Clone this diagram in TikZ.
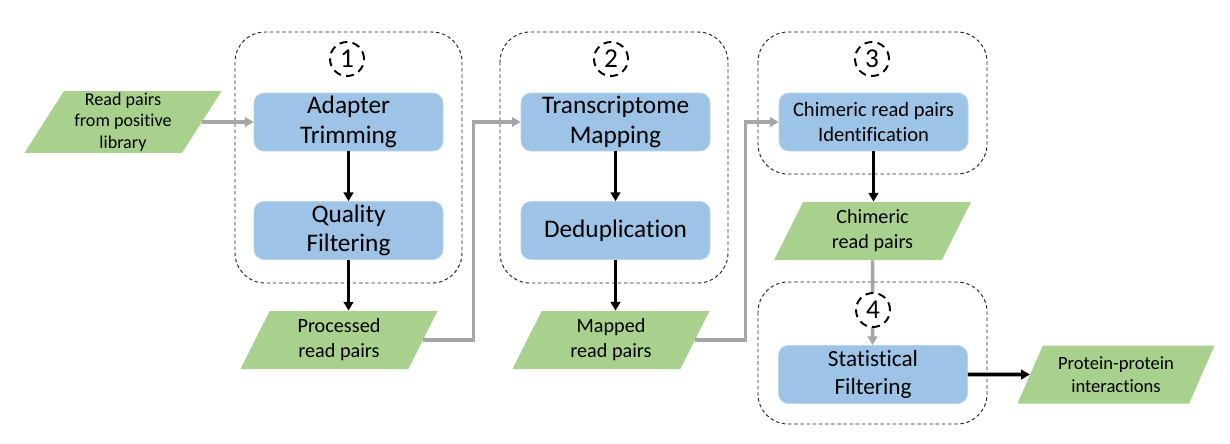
\documentclass[tikz,border=0pt]{standalone}
\usepackage{fontspec}
\setmainfont{Carlito}[Ligatures=NoCommon]
\usepackage{tikz}
\usetikzlibrary{shapes.geometric,arrows.meta,calc}

\definecolor{stepblue}{HTML}{9DC3E6}
\definecolor{datagreen}{HTML}{A9D18E}
\definecolor{linkgray}{HTML}{A6A6A6}

\tikzset{
  stepbox/.style={rectangle,rounded corners=0.2cm,fill=stepblue,draw=stepblue!70!white,
    minimum width=3.78cm,minimum height=1.16cm,align=center,inner sep=1pt,
    font=\fontsize{14.4}{16.8}\selectfont},
  databox/.style={trapezium,trapezium left angle=57.5,trapezium right angle=122.5,
    trapezium stretches body,fill=datagreen,minimum width=3.94cm,minimum height=1.16cm,
    align=center,inner sep=1pt,font=\fontsize{11.5}{14.2}\selectfont},
  groupbox/.style={draw=black!85,dash pattern=on 2pt off 1.5pt,line width=0.55pt,rounded corners=0.6cm},
  stagemark/.style={circle,draw=black,fill=white,line width=1.1pt,dash pattern=on 4.5pt off 3pt,
    minimum size=0.68cm,inner sep=0pt,font=\fontsize{15.5}{15.5}\selectfont},
  flow/.style={-{Triangle[length=5pt,width=5.5pt]},line width=2pt,black},
  link/.style={-{Triangle[length=5pt,width=5.5pt]},line width=2pt,linkgray},
}

\begin{document}
\begin{tikzpicture}
      \useasboundingbox (0,0) rectangle (24.6,-8.86);
      % dashed stage groups
      \draw[groupbox] (4.7,-0.64) rectangle (9.24,-5.66);
      \draw[groupbox] (10.0,-0.64) rectangle (14.56,-5.66);
      \draw[groupbox] (15.16,-0.64) rectangle (19.74,-3.48);
      \draw[groupbox] (15.16,-5.64) rectangle (19.74,-8.48);
      % processing steps
      \node[stepbox] (adapter) at (6.97,-2.44) {Adapter\\Trimming};
      \node[stepbox] (quality) at (6.97,-4.61) {Quality\\Filtering};
      \node[stepbox] (mapping) at (12.31,-2.44) {Transcriptome\\Mapping};
      \node[stepbox] (dedup) at (12.31,-4.61) {Deduplication};
      \node[stepbox,font=\fontsize{11.7}{14.2}\selectfont] (chimid) at (17.47,-2.44) {Chimeric read pairs\\Identification};
      \node[stepbox,font=\fontsize{13.2}{16}\selectfont] (statfilt) at (17.46,-7.49) {Statistical\\Filtering};
      % data
      \node[databox,font=\fontsize{10.3}{12.2}\selectfont] (reads) at (2.46,-2.44) {Read pairs\\from positive\\library};
      \node[databox] (processed) at (6.78,-6.8) {Processed\\read pairs};
      \node[databox] (mapped) at (12.22,-6.8) {Mapped\\read pairs};
      \node[databox] (chimeric) at (17.45,-4.62) {Chimeric\\read pairs};
      \node[databox,font=\fontsize{10.6}{13.3}\selectfont] (ppi) at (22.32,-7.49) {Protein-protein\\interactions};
      % connectors
      \draw[link] (reads.east) -- (adapter.west);
      \draw[flow] (adapter) -- (quality);
      \draw[flow] (quality) -- (quality |- processed.north);
      \draw[link] (processed.east) -- ++(1.0,0) |- (mapping.west);
      \draw[flow] (mapping) -- (dedup);
      \draw[flow] (dedup) -- (dedup |- mapped.north);
      \draw[link] (mapped.east) -- ++(1.0,0) |- (chimid.west);
      \draw[flow] (chimid) -- (chimid |- chimeric.north);
      \draw[link] (chimeric) -- (chimeric |- statfilt.north);
      \draw[flow] (statfilt.east) -- (ppi.west);
      % stage numbers
      \node[stagemark] (s1) at (6.94,-1.18) {1};
      \node[stagemark] (s2) at (12.22,-1.18) {2};
      \node[stagemark] (s3) at (17.44,-1.18) {3};
      \node[stagemark] (s4) at (17.46,-6.2) {4};
\end{tikzpicture}
\end{document}
